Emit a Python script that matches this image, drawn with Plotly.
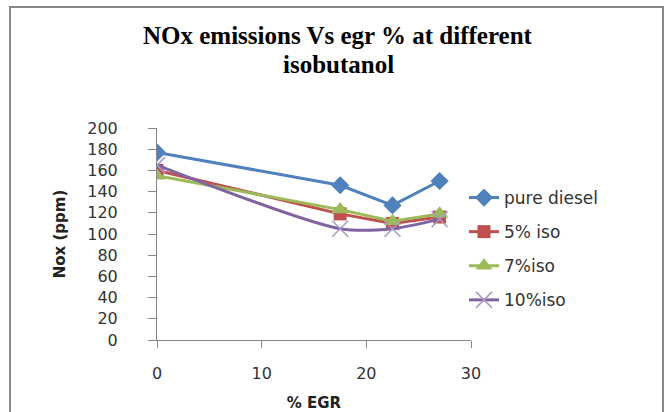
import plotly.graph_objects as go

egr = [0, 17.5, 22.5, 27]
pure_diesel = [177, 146, 127, 150]
iso5 = [160, 119, 110, 116]
iso7 = [155, 123, 112, 119]
iso10 = [165, 105, 105, 114]

names = ["pure diesel", "5% iso", "7%iso", "10%iso"]
series = [pure_diesel, iso5, iso7, iso10]
colors = ["#4F81BD", "#C0504D", "#9BBB59", "#8064A2"]
symbols = ["diamond", "square", "triangle-up", "x-thin"]
sizes = [14, 13, 15, 16]
shapes_line = ["linear", "linear", "linear", "spline"]
title_lines = ["NOx emissions Vs egr % at different", "isobutanol"]

W, H = 671, 412
L, R, T, B = 157, 200, 128, 72
pw, ph = W - L - R, H - T - B

fig = go.Figure()
for i, (n, s) in enumerate(zip(names, series)):
    marker = dict(symbol=symbols[i], size=sizes[i], color=colors[i])
    if symbols[i] == "x-thin":
        marker["line"] = dict(width=1.5, color="#A898CC")
    fig.add_trace(go.Scatter(
        x=egr, y=s, name=n, mode="lines+markers",
        line=dict(color=colors[i], width=3, shape=shapes_line[i], smoothing=0.8),
        marker=marker, legendgroup=n,
    ))

fig.update_layout(
    width=W, height=H,
    margin=dict(l=L, r=R, t=T, b=B, autoexpand=False),
    paper_bgcolor="white", plot_bgcolor="white",
    font=dict(family="DejaVu Sans", size=16, color="#333"),
    legend=dict(
        x=(464 - L) / pw, xanchor="left",
        y=(340 - 180) / ph, yanchor="top",
        font=dict(family="DejaVu Sans", size=17, color="#333"),
        tracegroupgap=9,
        bgcolor="rgba(0,0,0,0)",
    ),
    showlegend=True,
)
for py, txt in zip([35, 64], title_lines):
    fig.add_annotation(
        text="<b>" + txt + "</b>", xref="paper", yref="paper",
        x=(338 - L) / pw, y=(H - B - py) / ph, xanchor="center", yanchor="middle",
        showarrow=False, font=dict(family="Liberation Serif", size=25, color="#000"),
    )
fig.update_xaxes(
    range=[0, 30], tickvals=[0, 10, 20, 30], showgrid=False, zeroline=False,
    showline=True, linecolor="#868686", linewidth=1,
    ticks="outside", ticklen=7, tickcolor="#868686",
    ticklabelstandoff=12,
    title=dict(text="<b>% EGR</b>", font=dict(family="DejaVu Sans", size=15, color="#222"), standoff=21),
)
fig.update_yaxes(
    range=[0, 200], tickvals=list(range(0, 201, 20)), showgrid=False, zeroline=False,
    showline=True, linecolor="#868686", linewidth=1,
    ticks="outside", ticklen=8, tickcolor="#868686",
    ticklabelstandoff=27,
    title=dict(text="<b>Nox (ppm)</b>", font=dict(family="DejaVu Sans", size=15, color="#222"), standoff=18),
)
fig.add_shape(
    type="rect", xref="paper", yref="paper",
    x0=(10 - L) / pw, x1=(663 - L) / pw,
    y0=(H - T - 430) / ph, y1=(H - B - 7) / ph,
    line=dict(color="#888888", width=2), fillcolor="rgba(0,0,0,0)", layer="below",
)
fig.write_html("out.html")
